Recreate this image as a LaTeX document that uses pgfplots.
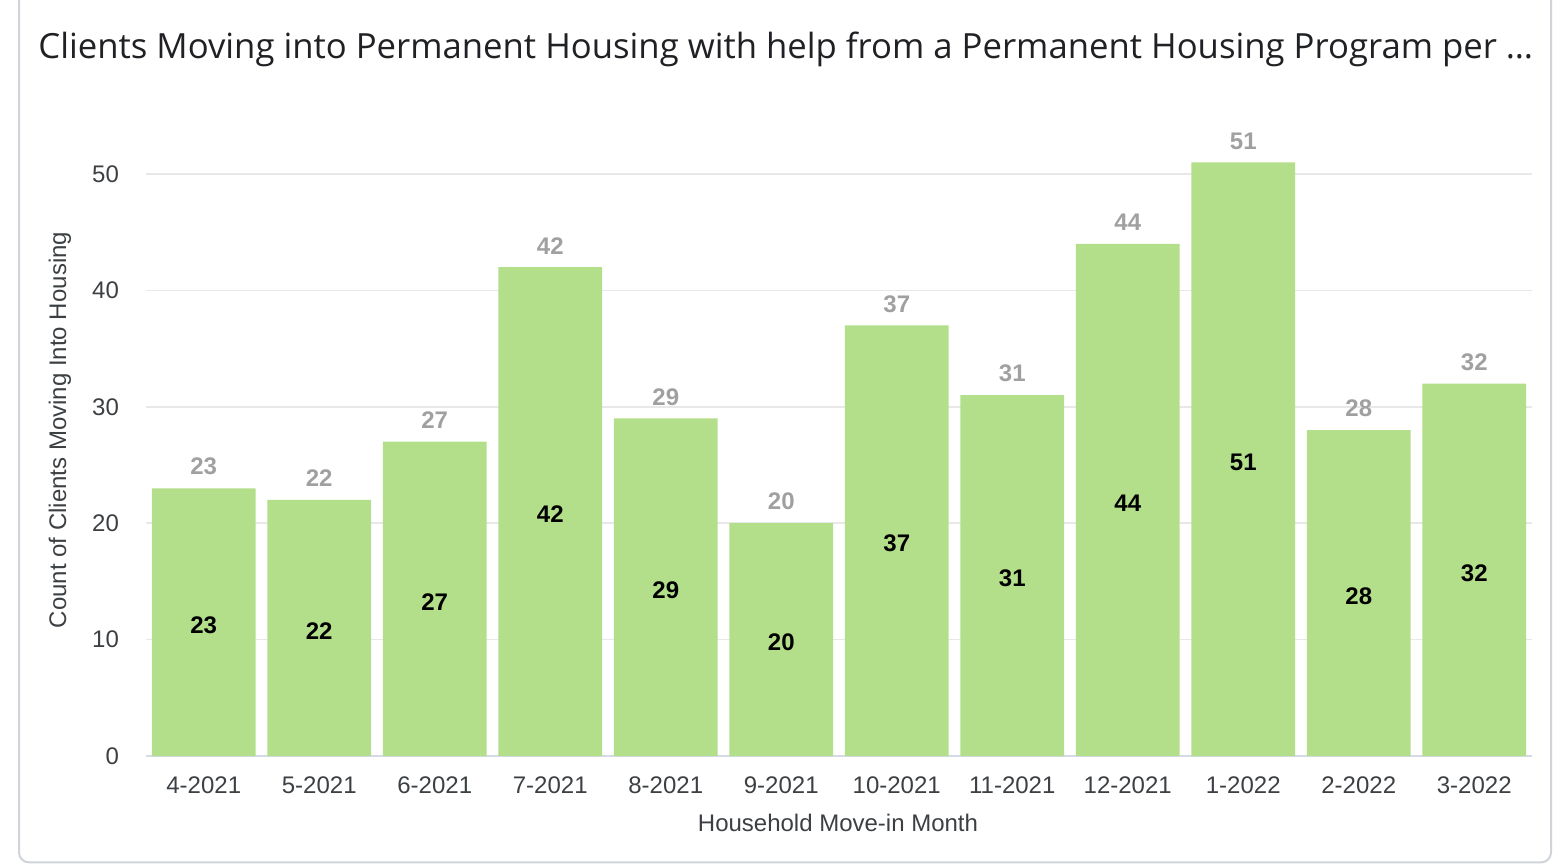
\documentclass[border=0pt]{standalone}
\usepackage{pgfplots}
\pgfplotsset{compat=1.18}
\usepackage{fontspec}
\setmainfont{Liberation Sans}
\newfontfamily\titlefont{Open Sans}
\definecolor{bargreen}{HTML}{B3DF8A}
\definecolor{lblgray}{HTML}{A0A0A0}
\definecolor{tickcol}{HTML}{3C4043}
\definecolor{titlecol}{HTML}{202124}
\definecolor{gridcol}{HTML}{E8E8E8}
\definecolor{axiscol}{HTML}{D5DAE8}
\definecolor{cardcol}{HTML}{D0D3D8}
\begin{document}
\begin{tikzpicture}
\useasboundingbox (0,0) rectangle (776.5pt,-431.5pt);
\draw[cardcol, line width=1pt, rounded corners=5pt] (9.5pt,10pt) -- (9.5pt,-431.2pt) -- (775.5pt,-431.2pt) -- (775.5pt,10pt);
\node[anchor=base west, inner sep=0pt, font=\titlefont\fontsize{17.35}{20}\selectfont, text=titlecol] at (19pt,-29pt) {Clients Moving into Permanent Housing with help from a Permanent Housing Program per \dots};
\node[rotate=90, font=\fontsize{12}{14}\selectfont, text=tickcol] at (30pt,-215pt) {Count of Clients Moving Into Housing};
\node[font=\fontsize{12}{14}\selectfont, text=tickcol] at (419pt,-411.5pt) {Household Move-in Month};
\begin{axis}[
  at={(73pt,-378pt)}, anchor=south west,
  scale only axis, width=693pt, height=308.46pt,
  xmin=-0.5, xmax=11.5, ymin=0, ymax=53,
  axis x line*=bottom, axis y line*=left,
  x axis line style={draw=axiscol, line width=1pt, -},
  y axis line style={draw=none},
  major tick length=0pt,
  ytick={0,10,20,30,40,50},
  xtick={0,...,11},
  xticklabels={4-2021,5-2021,6-2021,7-2021,8-2021,9-2021,10-2021,11-2021,12-2021,1-2022,2-2022,3-2022},
  ymajorgrids, grid style={gridcol, line width=0.8pt},
  /pgf/number format/assume math mode=true,
  tick label style={font=\fontsize{12}{14}\selectfont, text=tickcol},
  yticklabel style={xshift=-10pt},
  xticklabel style={yshift=-7pt},
  clip=false,
]
\addplot[ybar, bar width=0.9, fill=bargreen, draw=none,
  nodes near coords,
  every node near coord/.append style={font=\fontsize{12}{14}\selectfont\bfseries, text=lblgray, yshift=3pt}]
  coordinates {(0,23) (1,22) (2,27) (3,42) (4,29) (5,20) (6,37) (7,31) (8,44) (9,51) (10,28) (11,32)};
\addplot[draw=none, mark=none, point meta=explicit, nodes near coords,
  every node near coord/.style={anchor=center, font=\fontsize{12}{14}\selectfont\bfseries, text=black, yshift=-1.5pt}]
  coordinates {(0,11.5)[23] (1,11)[22] (2,13.5)[27] (3,21)[42] (4,14.5)[29] (5,10)[20] (6,18.5)[37] (7,15.5)[31] (8,22)[44] (9,25.5)[51] (10,14)[28] (11,16)[32]};
\end{axis}
\end{tikzpicture}
\end{document}
